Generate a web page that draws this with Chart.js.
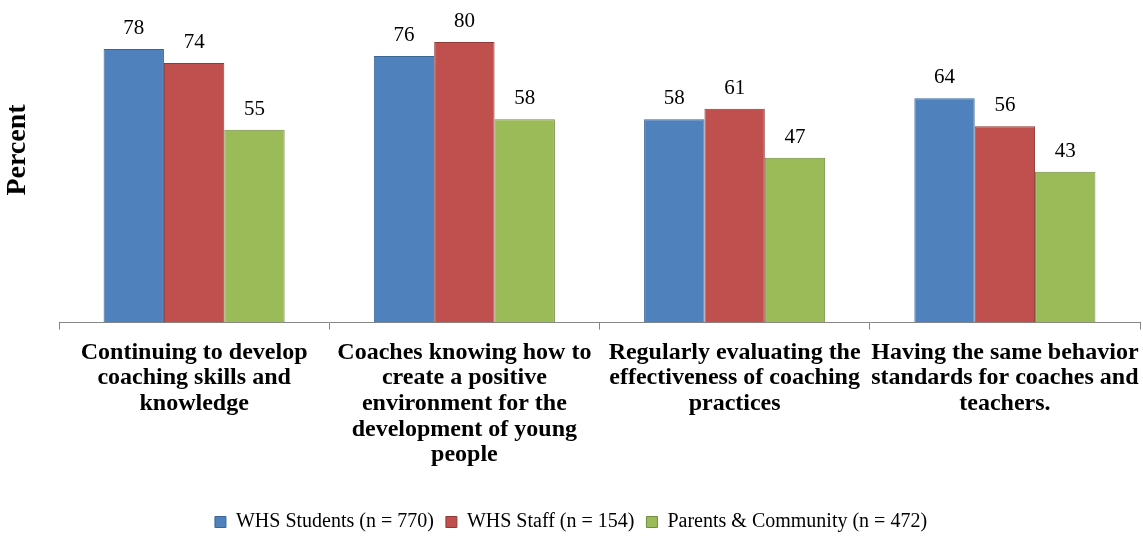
<!DOCTYPE html>
<html>
<head>
<meta charset="utf-8">
<script src="https://cdn.jsdelivr.net/npm/chart.js@4"></script>
<style>
  html, body { margin: 0; padding: 0; background: #fff; }
  #wrap { width: 1143px; height: 542px; }
</style>
</head>
<body>
<div id="wrap"><canvas id="coachChart" width="1143" height="542"></canvas></div>
<script>
// Survey data
const categories = [
    ["Continuing to develop", "coaching skills and", "knowledge"],
    ["Coaches knowing how to", "create a positive", "environment for the", "development of young", "people"],
    ["Regularly evaluating the", "effectiveness of coaching", "practices"],
    ["Having the same behavior", "standards for coaches and", "teachers."]
];
const seriesNames = ["WHS Students (n = 770)", "WHS Staff (n = 154)", "Parents & Community (n = 472)"];
const studentValues = [78, 76, 58, 64];
const staffValues = [74, 80, 61, 56];
const parentValues = [55, 58, 47, 43];

const serif = "'Liberation Serif', 'Times New Roman', serif";

// Draw the value above each bar
const valueLabels = {
    id: "valueLabels",
    afterDatasetsDraw(chart) {
        const ctx = chart.ctx;
        ctx.save();
        ctx.font = "21px " + serif;
        ctx.fillStyle = "#000";
        ctx.textAlign = "center";
        ctx.textBaseline = "alphabetic";
        chart.data.datasets.forEach((ds, i) => {
            chart.getDatasetMeta(i).data.forEach((bar, j) => {
                ctx.fillText(ds.data[j], bar.x, bar.y - 15);
            });
        });
        ctx.restore();
    }
};

// Vertical axis caption, sits a bit above the middle of the plot
const axisCaption = {
    id: "axisCaption",
    afterDraw(chart) {
        const ctx = chart.ctx;
        ctx.save();
        ctx.translate(18, 150);
        ctx.rotate(-Math.PI / 2);
        ctx.font = "bold 28px " + serif;
        ctx.fillStyle = "#000";
        ctx.textAlign = "center";
        ctx.textBaseline = "middle";
        ctx.fillText("Percent", 0, 0);
        ctx.restore();
    }
};

new Chart(document.getElementById("coachChart"), {
    type: "bar",
    data: {
        labels: categories,
        datasets: [
            { label: seriesNames[0], data: studentValues, backgroundColor: "#4F81BD", borderColor: "#3A6595", borderWidth: 1 },
            { label: seriesNames[1], data: staffValues, backgroundColor: "#C0504D", borderColor: "#8F3A38", borderWidth: 1 },
            { label: seriesNames[2], data: parentValues, backgroundColor: "#9BBB59", borderColor: "#718C3F", borderWidth: 1 }
        ]
    },
    options: {
        responsive: false,
        animation: false,
        datasets: { bar: { categoryPercentage: 0.67, barPercentage: 1.0 } },
        layout: { padding: { left: 2, right: 3, top: 7, bottom: 0 } },
        scales: {
            x: {
                grid: { display: true, drawOnChartArea: false, drawTicks: true, tickLength: 7, color: "#868686", offset: true },
                border: { display: true, color: "#868686", width: 1 },
                ticks: {
                    color: "#000",
                    font: { family: serif, size: 24, weight: "bold", lineHeight: 1.07 },
                    padding: 10,
                    maxRotation: 0,
                    minRotation: 0,
                    autoSkip: false
                },
                afterFit(scale) {
                    // let the outer labels run past the axis ends
                    scale.paddingLeft = 0;
                    scale.paddingRight = 0;
                    scale.height += 22;
                }
            },
            y: {
                min: 0,
                max: 90,
                grid: { display: false },
                border: { display: false },
                ticks: { display: false },
                afterFit(scale) { scale.width = 57; }
            }
        },
        plugins: {
            legend: {
                position: "bottom",
                labels: {
                    color: "#000",
                    font: { family: serif, size: 20 },
                    boxWidth: 11,
                    boxHeight: 11,
                    padding: 12
                }
            },
            tooltip: { enabled: false }
        }
    },
    plugins: [valueLabels, axisCaption]
});
</script>
</body>
</html>
